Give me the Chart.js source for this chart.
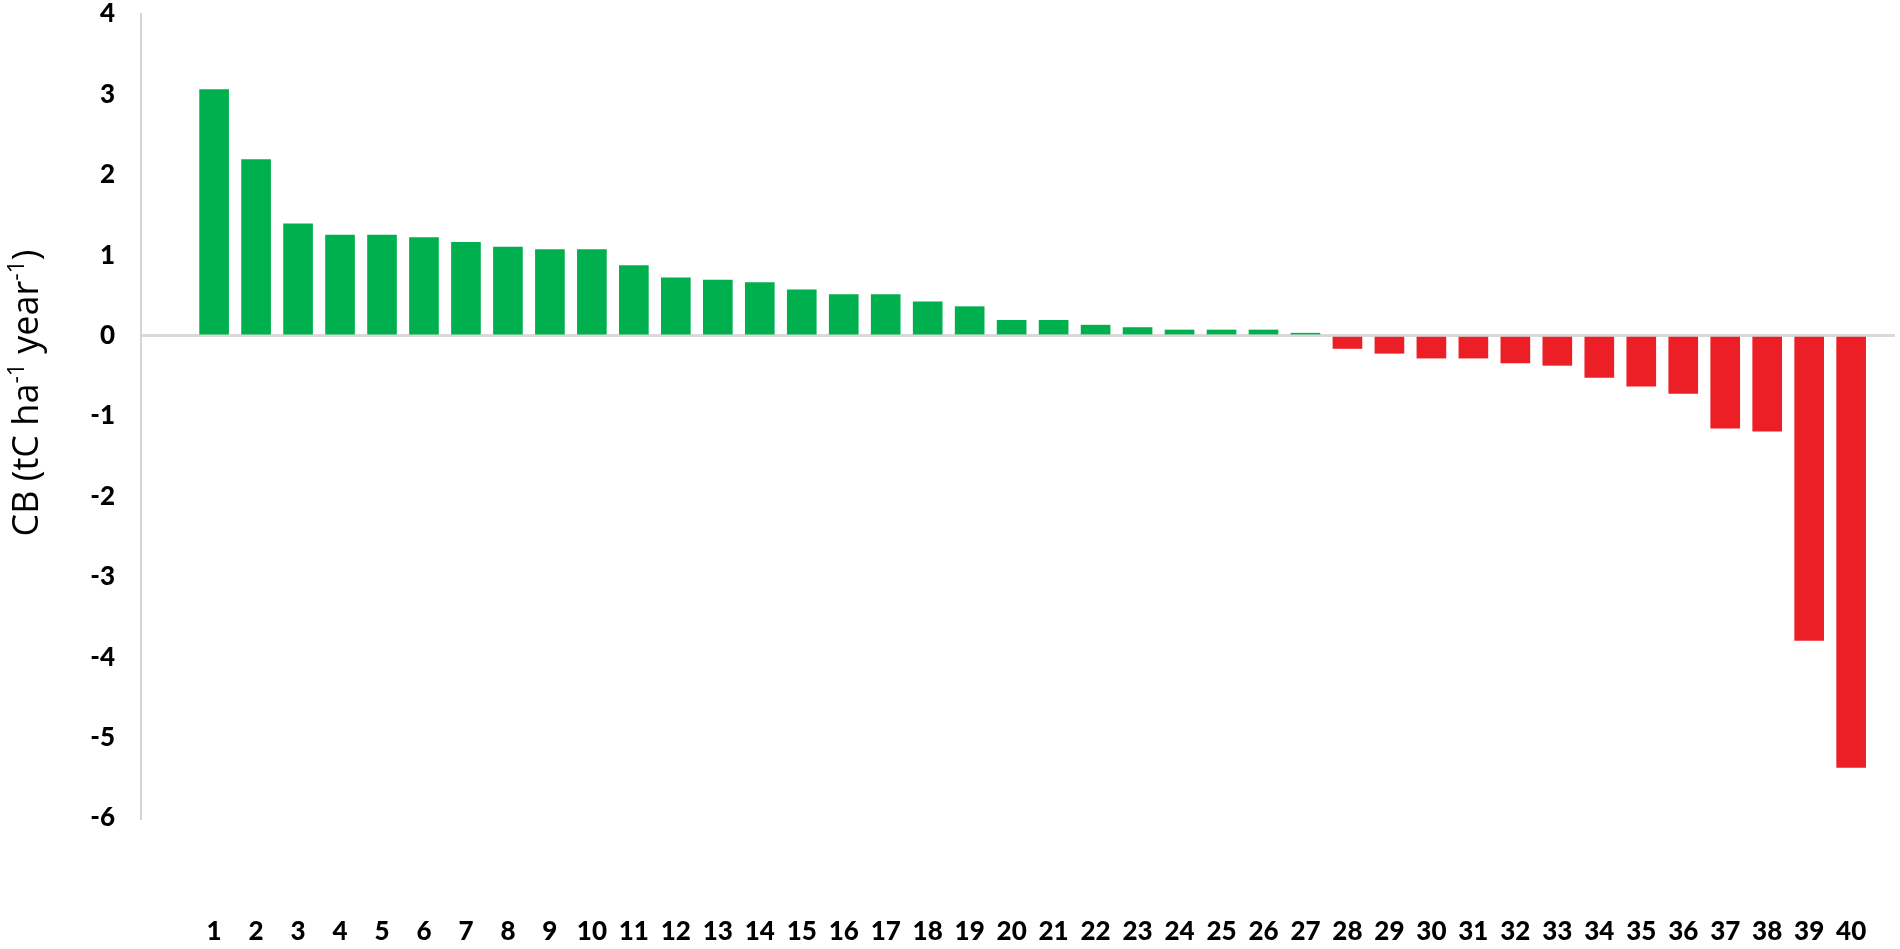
<!DOCTYPE html>
<html>
<head>
<meta charset="utf-8">
<title>Carbon balance per site</title>
<script src="https://cdn.jsdelivr.net/npm/chart.js@4/dist/chart.umd.min.js"></script>
<style>
    html, body { margin:0; padding:0; background:#fff; }
    #wrap { width:1900px; height:949px; position:relative; }
</style>
</head>
<body>

<div id="wrap">
    <canvas id="cbChart"></canvas>
</div>

<script>

// ======================================
// DATA
// ======================================

const sites = [
    "1","2","3","4","5","6","7","8","9","10",
    "11","12","13","14","15","16","17","18","19","20",
    "21","22","23","24","25","26","27","28","29","30",
    "31","32","33","34","35","36","37","38","39","40"
];

// CB, tC ha-1 year-1
const carbonBalance = [
    3.06, 2.19, 1.39, 1.25, 1.25, 1.22, 1.16, 1.10, 1.07, 1.07,
    0.87, 0.72, 0.69, 0.66, 0.57, 0.51, 0.51, 0.42, 0.36, 0.19,
    0.19, 0.13, 0.10, 0.07, 0.07, 0.07, 0.03, -0.16, -0.22, -0.28,
    -0.28, -0.34, -0.37, -0.52, -0.63, -0.72, -1.15, -1.19, -3.79, -5.37
];

const yTicks = [4, 3, 2, 1, 0, -1, -2, -3, -4, -5, -6];

const GREEN = "#00b04f";
const RED = "#ed1f26";

// ======================================
// Y TITLE (with superscripts)
// ======================================

const yTitle = [
    { text:"CB (tC ha", sup:false },
    { text:"-1", sup:true },
    { text:" year", sup:false },
    { text:"-1", sup:true },
    { text:")", sup:false }
];

const yTitlePlugin = {

    id:"yTitle",

    afterDraw(chart){

        const ctx = chart.ctx;
        const size = 36;
        const supSize = 23;

        ctx.save();

        ctx.translate(38, 393);
        ctx.rotate(-Math.PI / 2);

        let total = 0;

        yTitle.forEach(part=>{
            ctx.font = (part.sup ? supSize : size) + "px 'Open Sans'";
            total += ctx.measureText(part.text).width;
        });

        let x = -total / 2;

        ctx.fillStyle = "#000";
        ctx.textBaseline = "alphabetic";

        yTitle.forEach(part=>{
            ctx.font = (part.sup ? supSize : size) + "px 'Open Sans'";
            ctx.fillText(part.text, x, part.sup ? -14 : 0);
            x += ctx.measureText(part.text).width;
        });

        ctx.restore();

    }

};

// ======================================
// CHART
// ======================================

const tickFont = {
    family:"Lato",
    size:26,
    weight:"900"
};

new Chart(

    document.getElementById("cbChart"),

    {

        type:"bar",

        data:{

            datasets:[{

                label:"CB",

                data:carbonBalance.map((v, i)=>({ x:i + 1, y:v })),

                backgroundColor:carbonBalance.map(v=> v >= 0 ? GREEN : RED),

                barThickness:29,

                borderWidth:0

            }]

        },

        options:{

            responsive:true,
            maintainAspectRatio:false,
            animation:false,

            layout:{
                padding:{ top:14, right:5, bottom:0, left:0 }
            },

            plugins:{
                legend:{ display:false },
                tooltip:{ enabled:false }
            },

            scales:{

                x:{
                    type:"linear",
                    min:-0.232,
                    max:40.535,
                    afterFit(scale){
                        // labels sit far below the plot, keep the plot tall
                        scale.height = 131;
                        scale.paddingLeft = 0;
                        scale.paddingRight = 0;
                    },
                    grid:{ display:false },
                    border:{ display:false },
                    ticks:{
                        stepSize:1,
                        includeBounds:false,
                        autoSkip:false,
                        maxRotation:0,
                        padding:90,
                        color:"#000",
                        font:tickFont,
                        callback:v=> (v >= 1 && v <= sites.length) ? sites[v - 1] : ""
                    }
                },

                y:{
                    min:-6,
                    max:4,
                    afterFit(scale){
                        scale.width = 141;
                        scale.paddingTop = 0;
                        scale.paddingBottom = 0;
                    },
                    afterBuildTicks(scale){
                        scale.ticks = yTicks.map(v=>({ value:v }));
                    },
                    grid:{
                        drawTicks:false,
                        color:ctx=> ctx.tick && ctx.tick.value === 0 ? "#d9d9d9" : "rgba(0,0,0,0)",
                        lineWidth:3
                    },
                    border:{ display:true, color:"#d4d4d4", width:2 },
                    ticks:{
                        padding:26,
                        color:"#000",
                        font:tickFont
                    }
                }

            }

        },

        plugins:[yTitlePlugin]

    }

);

</script>
</body>
</html>
